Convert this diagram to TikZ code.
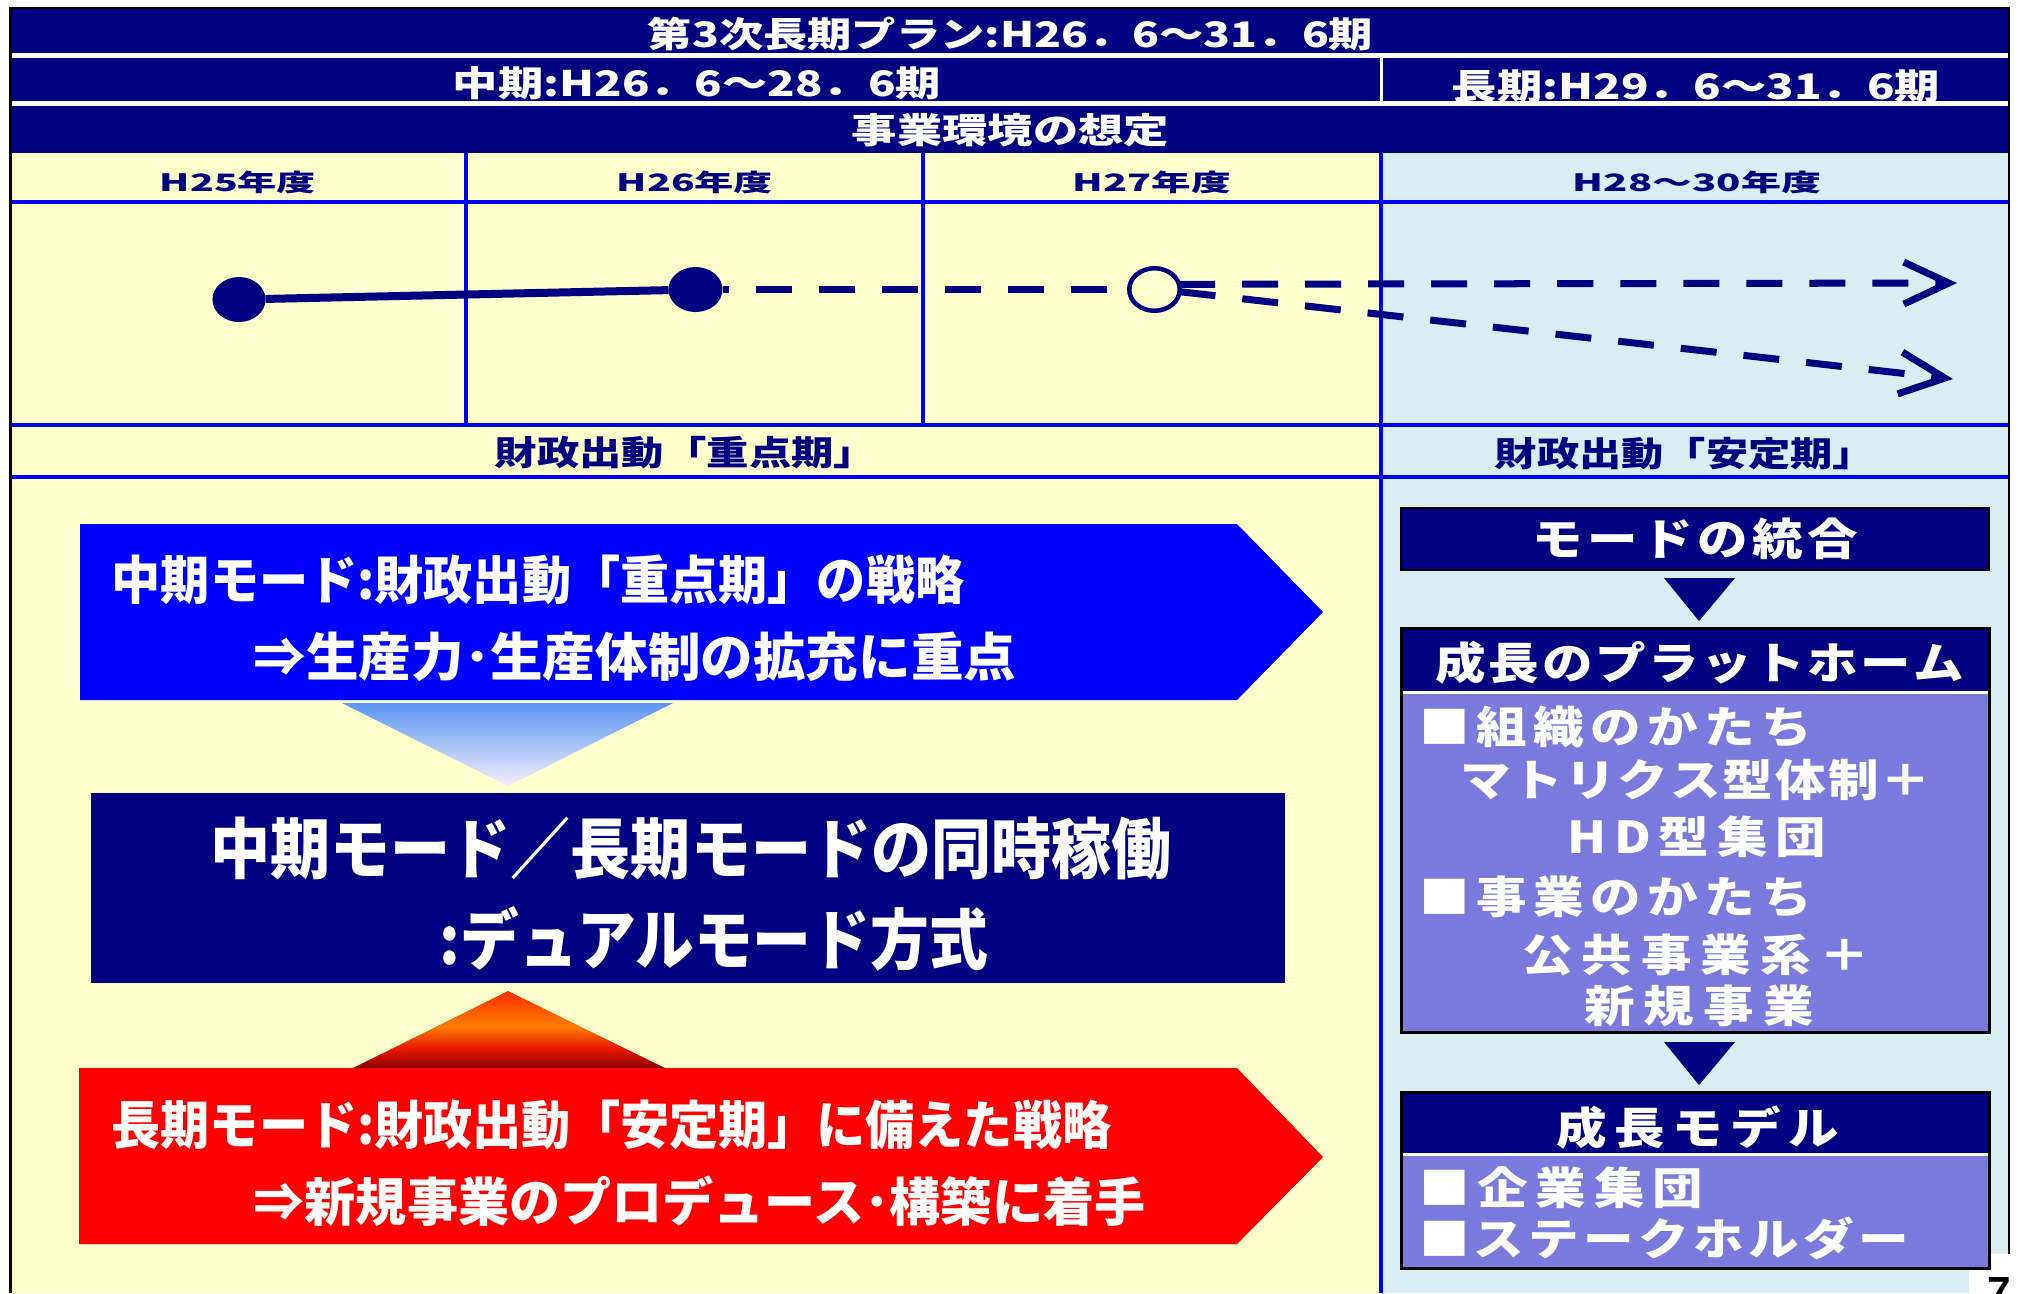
\documentclass[tikz,border=0pt]{standalone}
\usepackage{fontspec}
\usepackage{graphicx}
\setmainfont{Noto Sans CJK JP}
\newfontfamily\arialf{Liberation Sans}
\usetikzlibrary{shapes.geometric,arrows.meta}
\definecolor{navy}{RGB}{0,0,128}
\definecolor{lyellow}{RGB}{255,255,204}
\definecolor{lblue}{RGB}{218,237,243}
\definecolor{pblue}{RGB}{0,0,255}
\definecolor{purp}{RGB}{122,122,222}
\definecolor{btop}{RGB}{90,150,242}
\definecolor{bmid}{RGB}{135,192,250}
\definecolor{bbot}{RGB}{245,238,250}
\definecolor{dred}{RGB}{140,0,0}
\definecolor{rrone}{RGB}{235,25,0}
\definecolor{ror}{RGB}{255,125,0}
\definecolor{rtop}{RGB}{255,45,0}
\pgfdeclareverticalshading{redtri}{100bp}{color(0bp)=(dred); color(25bp)=(dred); color(38bp)=(rrone); color(52bp)=(ror); color(75bp)=(rtop); color(100bp)=(rtop)}
\newcommand\fitw[2]{\resizebox{#1}{\height}{#2}}
\newcommand\sprx{1.15}
\makeatletter
\def\spreadit#1{\spr@first#1\@nil}
\def\spr@first#1{\scalebox{\sprx}[1]{#1}\spr@rest}
\def\spr@rest#1{\ifx#1\@nil\else\hfil\scalebox{\sprx}[1]{#1}\expandafter\spr@rest\fi}
\makeatother
\newcommand\spaced[2]{\makebox[#1][s]{\spreadit{#2}}}
\newcommand\hdfont{\bfseries\fontsize{10pt}{12pt}\selectfont}
\newcommand\yrfont{\bfseries\fontsize{6.8pt}{8pt}\selectfont}
\newcommand\zfont{\bfseries\fontsize{9.7pt}{11pt}\selectfont}
\newcommand\bigfont{\bfseries\fontsize{14.8pt}{16pt}\selectfont}
\newcommand\midfont{\bfseries\fontsize{18.8pt}{20pt}\selectfont}
\newcommand\rpfont{\bfseries\fontsize{12.5pt}{14pt}\selectfont}
\begin{document}
\begin{tikzpicture}[x=0.01cm,y=-0.01cm,
  navytxt/.style={text=navy, inner sep=0pt, outer sep=0pt},
  whtxt/.style={text=white, inner sep=0pt, outer sep=0pt},
  bline/.style={pblue, line width=0.035cm},
  dashline/.style={navy, line width=0.07cm, dash pattern=on 0.36cm off 0.27cm},
  dot/.style={ellipse, minimum width=0.53cm, minimum height=0.45cm, inner sep=0pt, outer sep=0pt},
  tip/.style={-{Straight Barb[length=0.45cm,width=0.42cm]}},
]
\clip (0,0) rectangle (2019,1293);
\useasboundingbox (0,0) rectangle (2019,1293);
\fill[white] (0,0) rectangle (2019,1293);
% backgrounds
\fill[lyellow] (10,153) rectangle (1381,1293);
\fill[lblue] (1381,153) rectangle (2008,1293);
% navy header rows
\fill[navy] (10,8) rectangle (2008,53);
\fill[navy] (10,58) rectangle (2008,101);
\fill[navy] (10,106) rectangle (2008,153);
\draw[white, line width=0.03cm] (1381,58) -- (1381,101);
\node[whtxt, font=\hdfont] (h1) at (1010.5,34) {\fitw{7.25cm}{第3次長期プラン:H26．6～31．6期}};
\node[whtxt, font=\hdfont] (h2a) at (697,83) {\fitw{4.88cm}{中期:H26．6～28．6期}};
\node[whtxt, font=\hdfont] (h2b) at (1696,86) {\fitw{4.88cm}{長期:H29．6～31．6期}};
\node[whtxt, font=\hdfont] (h3) at (1010.5,130) {\fitw{3.17cm}{事業環境の想定}};
% year labels
\node[navytxt, font=\yrfont] (y25) at (238,182) {\fitw{1.56cm}{H25年度}};
\node[navytxt, font=\yrfont] (y26) at (695,182) {\fitw{1.56cm}{H26年度}};
\node[navytxt, font=\yrfont] (y27) at (1152,182) {\fitw{1.58cm}{H27年度}};
\node[navytxt, font=\yrfont] (y28) at (1697,182) {\fitw{2.48cm}{H28～30年度}};
% grid lines
\draw[bline] (10,202) -- (2008,202);
\draw[bline] (10,425) -- (2008,425);
\draw[bline] (10,477) -- (2008,477);
\draw[bline] (466,153) -- (466,425);
\draw[bline] (923,153) -- (923,425);
\draw[bline] (1381,153) -- (1381,1293);
% phase row
\node[navytxt, font=\zfont] (z1) at (685.5,453) {\fitw{3.81cm}{財政出動「重点期」}};
\node[navytxt, font=\zfont] (z2) at (1685,454) {\fitw{3.80cm}{財政出動「安定期」}};
% chart
\node[dot, fill=navy] (c1) at (239,299.5) {};
\node[dot, fill=navy, minimum width=0.54cm] (c2) at (695.5,289.5) {};
\node[dot, draw=navy, line width=0.045cm, minimum width=0.505cm, minimum height=0.425cm] (c3) at (1154.5,289.5) {};
\draw[navy, line width=0.08cm] (c1) -- (c2);
\draw[dashline, dash phase=0.30cm] (c2) -- (c3);
\coordinate (t1) at (1957,283);
\coordinate (t2) at (1953,379);
\draw[dashline, tip] (c3.12) -- (t1);
\draw[dashline, tip] (c3.-5) -- (t2);
% blue pentagon
\fill[pblue] (80,524) -- (1237,524) -- (1323,612) -- (1237,700) -- (80,700) -- cycle;
\node[whtxt, font=\bigfont] (b1) at (538,580) {\fitw{8.52cm}{中期モード:財政出動「重点期」の戦略}};
\node[whtxt, font=\bigfont] (b2) at (635,657) {\fitw{7.62cm}{⇒生産力･生産体制の拡充に重点}};
\shade[top color=btop, middle color=bmid, bottom color=bbot] (342,703) -- (673,703) -- (508,786) -- cycle;
% middle box
\fill[navy] (91,793) rectangle (1285,983);
\node[whtxt, font=\midfont] (m1) at (691,848) {\fitw{9.60cm}{中期モード／長期モードの同時稼働}};
\node[whtxt, font=\midfont] (m2) at (714,939) {\fitw{5.48cm}{:デュアルモード方式}};
% red part
\shade[shading=redtri] (353,1068) -- (665,1068) -- (508,991) -- cycle;
\fill[red] (79,1068) -- (1237,1068) -- (1323,1157) -- (1237,1244) -- (79,1244) -- cycle;
\node[whtxt, font=\bigfont] (rd1) at (611.5,1125) {\fitw{9.99cm}{長期モード:財政出動「安定期」に備えた戦略}};
\node[whtxt, font=\bigfont] (rd2) at (699.5,1201) {\fitw{8.91cm}{⇒新規事業のプロデュース･構築に着手}};
% page number corner
\fill[white] (1969,1254) rectangle (2019,1293);
\node[anchor=north west, inner sep=0pt, font=\arialf\bfseries\fontsize{12pt}{12pt}\selectfont] (pg) at (1987,1277) {7};
% right panel
\node[fill=navy, draw=black, line width=0.025cm, minimum width=5.88cm, minimum height=0.62cm, inner sep=0pt, text=white, font=\rpfont] (mode) at (1695,539) {\spaced{3.25cm}{モードの統合}};
\fill[navy] (1664,578) -- (1735,578) -- (1699,621) -- cycle;
\fill[navy] (1401,628) rectangle (1989,691);
\fill[white] (1401,691) rectangle (1989,694);
\fill[purp] (1401,694) rectangle (1989,1032);
\draw[black, line width=0.03cm] (1401,628) rectangle (1989,1032);
\node[whtxt, font=\rpfont] (p0) at (1700,663) {\spaced{5.28cm}{成長のプラットホーム}};
\node[whtxt, font=\rpfont, anchor=west] (p1) at (1419,727) {\spaced{3.93cm}{■組織のかたち}};
\node[whtxt, font=\rpfont, anchor=west] (p2) at (1460,780) {\spaced{4.71cm}{マトリクス型体制＋}};
\node[whtxt, font=\rpfont, anchor=west] (p3) at (1567,837) {\spaced{2.59cm}{HD型集団}};
\node[whtxt, font=\rpfont, anchor=west] (p4) at (1419,897) {\spaced{3.93cm}{■事業のかたち}};
\node[whtxt, font=\rpfont, anchor=west] (p5) at (1522,955) {\spaced{3.48cm}{公共事業系＋}};
\node[whtxt, font=\rpfont, anchor=west] (p6) at (1584,1006) {\spaced{2.30cm}{新規事業}};
\fill[navy] (1664,1042) -- (1735,1042) -- (1699,1085) -- cycle;
\fill[navy] (1401,1092) rectangle (1989,1153);
\fill[white] (1401,1153) rectangle (1989,1156);
\fill[purp] (1401,1156) rectangle (1989,1268);
\draw[black, line width=0.03cm] (1401,1092) rectangle (1989,1268);
\node[whtxt, font=\rpfont] (g0) at (1698,1128) {\spaced{2.82cm}{成長モデル}};
\node[whtxt, font=\rpfont, anchor=west] (g1) at (1419,1188) {\spaced{2.84cm}{■企業集団}};
\node[whtxt, font=\rpfont, anchor=west] (g2) at (1419,1238) {\spaced{4.90cm}{■ステークホルダー}};
% outer frame
\draw[black, line width=0.02cm] (10.5,1293) -- (10.5,7.5) -- (2009,7.5) -- (2009,1254);
\end{tikzpicture}
\end{document}
